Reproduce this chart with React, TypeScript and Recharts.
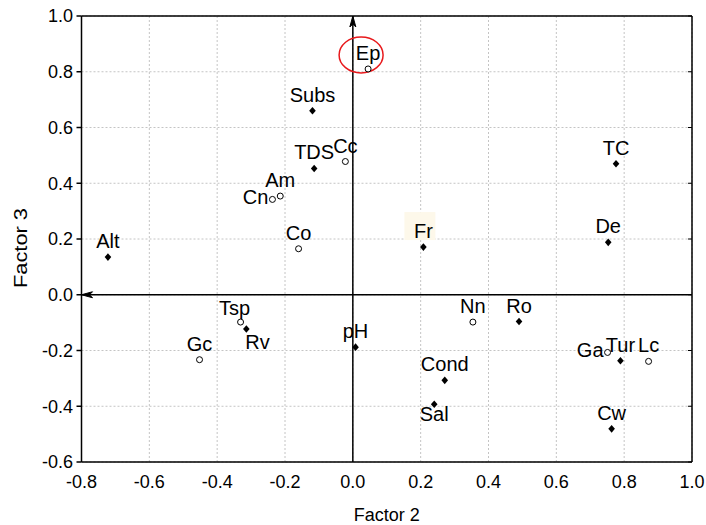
import React from 'react'
import {
  ScatterChart,
  Scatter,
  XAxis,
  YAxis,
  CartesianGrid,
  ReferenceLine,
  Label,
} from 'recharts'

// variable names and their loadings on factor 2 / factor 3
const names = ['Ep', 'Subs', 'TDS', 'Cc', 'Am', 'Cn', 'Co', 'Alt', 'TC', 'De', 'Fr', 'Tsp', 'Rv', 'Gc', 'pH', 'Nn', 'Ro', 'Ga', 'Tur', 'Lc', 'Cond', 'Sal', 'Cw']
const factor2 = [0.045, -0.119, -0.114, -0.022, -0.214, -0.237, -0.16, -0.722, 0.776, 0.753, 0.208, -0.331, -0.314, -0.452, 0.008, 0.354, 0.49, 0.751, 0.789, 0.872, 0.271, 0.24, 0.763]
const factor3 = [0.81, 0.66, 0.453, 0.478, 0.354, 0.342, 0.165, 0.135, 0.47, 0.188, 0.171, -0.098, -0.123, -0.233, -0.188, -0.098, -0.096, -0.207, -0.237, -0.239, -0.307, -0.393, -0.481]
const hollow = ['Ep', 'Cc', 'Am', 'Cn', 'Co', 'Tsp', 'Gc', 'Nn', 'Ga', 'Lc']
const circled = ['Ep']
const boxed = ['Fr']

const xTicks = [-0.8, -0.6, -0.4, -0.2, 0, 0.2, 0.4, 0.6, 0.8, 1.0]
const yTicks = [-0.6, -0.4, -0.2, 0, 0.2, 0.4, 0.6, 0.8, 1.0]

// where each label sits relative to its point (default: above)
const labelPlace: Record<string, string> = {
  Cn: 'left',
  Ga: 'left',
  Rv: 'belowRight',
  Sal: 'below',
  Tsp: 'aboveLeft',
}

const points = names.map((name, i) => ({
  name,
  x: factor2[i],
  y: factor3[i],
  open: hollow.includes(name),
}))

const FONT = '"Liberation Sans", Arial, sans-serif'

const PointShape = (props: any) => {
  const { cx, cy, payload } = props
  if (cx == null || cy == null) return null
  const place = labelPlace[payload.name] || 'above'
  let lx = cx
  let ly = cy - 9
  let anchor: 'middle' | 'start' | 'end' = 'middle'
  if (place === 'left') {
    lx = cx - 4
    ly = cy + 5
    anchor = 'end'
  } else if (place === 'belowRight') {
    lx = cx - 1
    ly = cy + 20
    anchor = 'start'
  } else if (place === 'below') {
    ly = cy + 17
  } else if (place === 'aboveLeft') {
    lx = cx - 6
    ly = cy - 7
  }
  return (
    <g>
      {boxed.includes(payload.name) && (
        <rect x={cx - 19} y={cy - 35} width={31} height={28} fill="#fdf8ea" />
      )}
      {circled.includes(payload.name) && (
        <ellipse cx={cx - 7} cy={cy - 14} rx={22} ry={18} fill="none" stroke="#e8191c" strokeWidth={1.5} />
      )}
      {payload.open ? (
        <circle cx={cx} cy={cy} r={3} fill="#fff" stroke="#000" strokeWidth={1} />
      ) : (
        <path d={`M${cx},${cy - 3.8} L${cx + 3.3},${cy} L${cx},${cy + 3.8} L${cx - 3.3},${cy} Z`} fill="#000" />
      )}
      <text x={lx} y={ly} textAnchor={anchor} fontSize={20} fontFamily={FONT} fill="#000">
        {payload.name}
      </text>
    </g>
  )
}

const ArrowLine = (props: any) => {
  const { x1, y1, x2, y2 } = props
  const vertical = Math.abs(x1 - x2) < 0.5
  let head = ''
  if (vertical) {
    const tx = x1
    const ty = Math.min(y1, y2)
    head = `M${tx},${ty} L${tx + 3},${ty + 11} L${tx},${ty + 8} L${tx - 3},${ty + 11} Z`
  } else {
    const tx = Math.min(x1, x2)
    const ty = y1
    head = `M${tx},${ty} L${tx + 11},${ty - 3} L${tx + 8},${ty} L${tx + 11},${ty + 3} Z`
  }
  return (
    <g>
      <line x1={x1} y1={y1} x2={x2} y2={y2} stroke="#000" strokeWidth={1.5} />
      <path d={head} fill="#000" stroke="#000" strokeWidth={1} />
    </g>
  )
}

const YTitle = (props: any) => {
  const { viewBox } = props
  const x = 21
  const y = viewBox.y + viewBox.height / 2 + 9
  return (
    <text
      x={x}
      y={y}
      transform={`rotate(-90 ${x} ${y})`}
      textAnchor="middle"
      dominantBaseline="central"
      fontSize={18}
      fontFamily={FONT}
      fill="#000"
      textLength={80}
      lengthAdjust="spacingAndGlyphs"
    >
      Factor 3
    </text>
  )
}

const axisStroke = { stroke: '#000', strokeWidth: 1.5 }
const noLabel = () => ''

export default function App() {
  return (
    <div style={{ position: 'absolute', left: 0, top: 0, width: 706, height: 525, background: '#fff' }}>
      <ScatterChart
        width={706}
        height={525}
        margin={{ top: 16, right: 14, bottom: 0, left: 0 }}
        style={{ fontFamily: FONT }}
      >
        <CartesianGrid stroke="#c4c4c4" strokeDasharray="2 2" />
        <XAxis
          type="number"
          dataKey="x"
          domain={[-0.8, 1.0]}
          ticks={xTicks}
          allowDataOverflow
          height={63}
          tickLine={false}
          tickSize={0}
          tickMargin={13}
          axisLine={axisStroke}
          tickFormatter={(v: number) => v.toFixed(1)}
          tick={{ fill: '#000', fontSize: 18 }}
        >
          <Label value="Factor 2" position="insideBottom" offset={4} fill="#000" fontSize={18} />
        </XAxis>
        <YAxis
          type="number"
          dataKey="y"
          domain={[-0.6, 1.0]}
          ticks={yTicks}
          allowDataOverflow
          width={81.5}
          tickSize={5}
          tickMargin={3.5}
          tickLine={axisStroke}
          axisLine={axisStroke}
          tickFormatter={(v: number) => v.toFixed(1)}
          tick={{ fill: '#000', fontSize: 18 }}
        >
          <Label content={<YTitle />} />
        </YAxis>
        <XAxis
          xAxisId="top"
          orientation="top"
          type="number"
          domain={[-0.8, 1.0]}
          ticks={xTicks}
          allowDataOverflow
          mirror
          tickSize={4}
          tickLine={{ stroke: '#000' }}
          axisLine={axisStroke}
          tickFormatter={noLabel}
        />
        <YAxis
          yAxisId="right"
          orientation="right"
          type="number"
          domain={[-0.6, 1.0]}
          ticks={yTicks}
          allowDataOverflow
          mirror
          tickSize={4}
          tickLine={{ stroke: '#000' }}
          axisLine={axisStroke}
          tickFormatter={noLabel}
        />
        <ReferenceLine x={0} shape={<ArrowLine />} />
        <ReferenceLine y={0} shape={<ArrowLine />} />
        <Scatter data={points} shape={<PointShape />} isAnimationActive={false} />
      </ScatterChart>
    </div>
  )
}
